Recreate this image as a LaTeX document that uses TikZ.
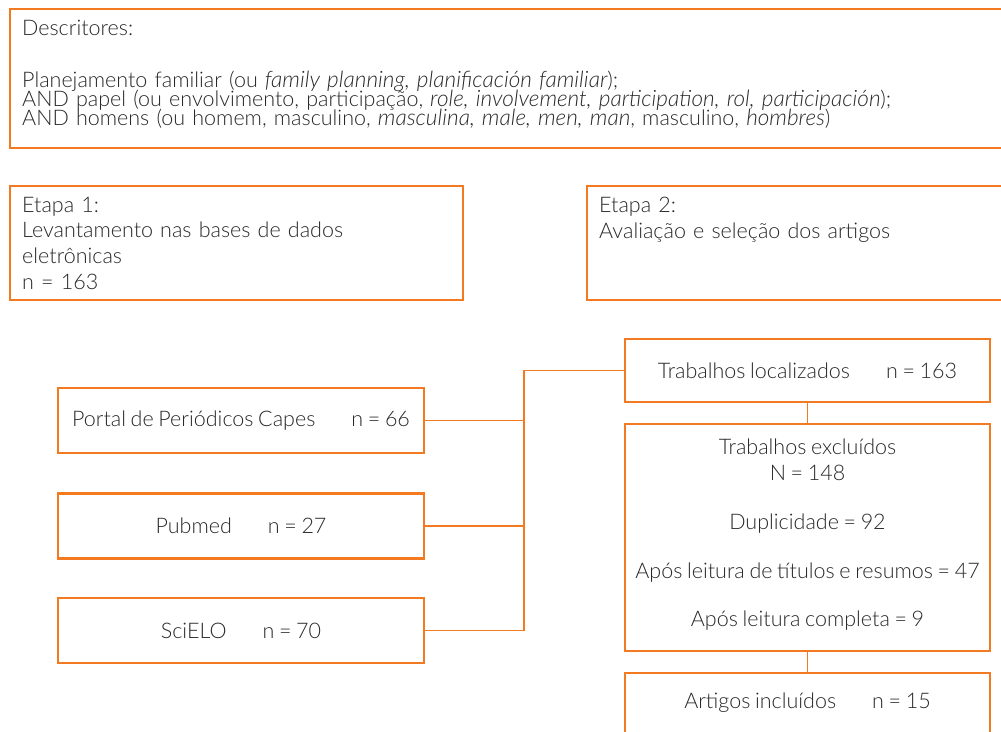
\documentclass[tikz,border=0pt]{standalone}
\usepackage{fontspec}
\IfFontExistsTF{Lato Light}{\setmainfont{Lato Light}[WordSpace=0.8, ItalicFont={Lato Light Italic}, ItalicFeatures={Scale=1.05}]}{\setmainfont{Lato}[WordSpace=0.8]}
\usetikzlibrary{positioning}
\definecolor{laranja}{RGB}{243,122,33}
\definecolor{texto}{RGB}{40,40,40}
\newcommand{\vao}{\hspace{36pt}}
\newcommand{\apertado}{\fontsize{21.5}{19}\selectfont\lineskiplimit=-20pt\relax}
\tikzset{
	caixa/.style={draw=laranja, line width=2.4pt, rectangle, inner sep=0pt, text=texto, font=\fontsize{21.5}{25.7}\selectfont},
	fonte/.style={caixa, minimum width=366, minimum height=65},
	fluxo/.style={caixa, minimum width=365, align=center},
	etapa/.style={caixa, anchor=north west, align=left, inner xsep=12pt, minimum height=114},
	ligacao/.style={draw=laranja, line width=1.6pt},
}

\begin{document}
\begin{tikzpicture}[x=1pt, y=-1pt]
		%%%%% START %%%%%
		\clip (0, 0) rectangle (1001, 731);
		
		\node[caixa, anchor=north west, align=left, inner xsep=12pt, text width=986, minimum height=139, font=\apertado] (descritores) at (9, 8)
			{Descritores:\\[33pt]
			Planejamento familiar (ou \textit{family planning, planificación familiar});\\
			AND papel (ou envolvimento, participação, \textit{role, involvement, participation, rol, participación});\\
			AND homens (ou homem, masculino, \textit{masculina, male, men, man}, masculino, \textit{hombres})\rule[-12pt]{0pt}{1pt}};
		
		\node[etapa, text width=429] (etapa1) at (9, 185)
			{Etapa 1:\\Levantamento nas bases de dados\\eletrônicas\\n = 163};
		\node[etapa, text width=400] (etapa2) at (586, 185)
			{Etapa 2:\\Avaliação e seleção dos artigos\\\mbox{}\\\mbox{}};
		
		\node[fonte] (capes) at (241, 420.5) {Portal de Periódicos Capes\vao n = 66};
		\node[fonte] (pubmed) at (241, 526) {Pubmed\vao n = 27};
		\node[fonte] (scielo) at (241, 630.5) {SciELO\vao n = 70};
		
		\node[fluxo, minimum height=63] (localizados) at (807.5, 370.5) {Trabalhos localizados\vao n = 163};
		\node[fluxo, minimum height=227] (excluidos) at (807.5, 537.5)
			{Trabalhos excluídos\\N = 148\\[23pt]
			Duplicidade = 92\\[23pt]
			Após leitura de títulos e resumos = 47\\[23pt]
			Após leitura completa = 9\rule[-9pt]{0pt}{1pt}};
		\node[fluxo, minimum height=63] (incluidos) at (807.5, 704.5) {\rule[-7pt]{0pt}{7pt}Artigos incluídos\vao n = 15};
		
		\coordinate (juncao) at (524, 0);
		\draw[ligacao] (localizados.west) -| (juncao |- scielo.east) -- (scielo.east);
		\draw[ligacao] (capes.east) -- (capes.east -| juncao);
		\draw[ligacao] (pubmed.east) -- (pubmed.east -| juncao);
		\draw[ligacao] (localizados) -- (excluidos);
		\draw[ligacao] (excluidos) -- (incluidos);
		
		%%%%% END %%%%%
	\end{tikzpicture}
\end{document}
